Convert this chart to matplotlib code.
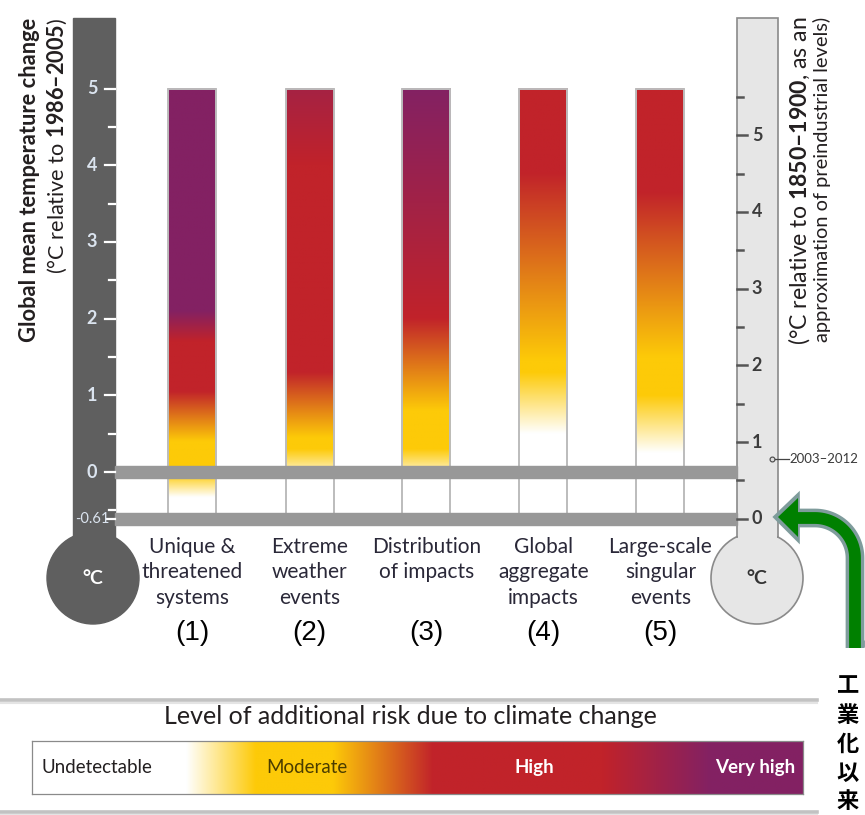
import numpy as np
import matplotlib
matplotlib.use("Agg")
import matplotlib.pyplot as plt
from matplotlib import font_manager
from matplotlib.transforms import Affine2D, blended_transform_factory
from matplotlib.patches import Rectangle, Circle, Polygon
from matplotlib.lines import Line2D

# ---------------------------------------------------------------- data
categories = ["Unique &\nthreatened\nsystems", "Extreme\nweather\nevents",
              "Distribution\nof impacts", "Global\naggregate\nimpacts",
              "Large-scale\nsingular\nevents"]
numbers = ["(1)", "(2)", "(3)", "(4)", "(5)"]

# risk level along each bar: 0 undetectable, 1 moderate, 2 high, 3 very high
# temperatures in °C relative to 1986–2005
rfc1_temp = [-0.33, -0.02, 0.40, 1.05, 1.70, 2.10, 5.0]
rfc1_level = [0, 1, 1, 2, 2, 3, 3]
rfc2_temp = [-0.10, 0.30, 0.45, 1.30, 4.00, 5.0]
rfc2_level = [0, 1, 1, 2, 2, 2.45]
rfc3_temp = [-0.10, 0.30, 0.80, 2.00, 5.0]
rfc3_level = [0, 1, 1, 2, 3]
rfc4_temp = [0.50, 1.30, 1.45, 3.90, 5.0]
rfc4_level = [0, 1, 1, 2, 2]
rfc5_temp = [0.25, 1.00, 1.50, 3.65, 5.0]
rfc5_level = [0, 1, 1, 2, 2]

bar_top = 5.0
baseline_offset = 0.61          # 1986–2005 minus 1850–1900
period_2003_2012 = 0.78          # °C relative to 1850–1900
left_ticks = [0, 1, 2, 3, 4, 5]
right_ticks = [0, 1, 2, 3, 4, 5]

level_names = ["Undetectable", "Moderate", "High", "Very high"]
level_colors = ["#FFFFFF", "#FDCA08", "#C1232A", "#832163"]
legend_pos = [0.0, 0.20, 0.29, 0.39, 0.52, 0.74, 0.88, 1.0]
legend_level = [0, 0, 1, 1, 2, 2, 3, 3]

jp_label = "工業化以来"

# ---------------------------------------------------------------- fonts
avail = {f.name for f in font_manager.fontManager.ttflist}
def pick(*names):
    for n in names:
        if n in avail:
            return n
    return "DejaVu Sans"

NARROW = pick("Liberation Sans Narrow", "Lato", "Roboto", "Liberation Sans")
ARIAL = pick("Liberation Sans", "DejaVu Sans")
CJK = pick("Noto Sans CJK JP", "Noto Sans CJK SC")
plt.rcParams["font.family"] = [NARROW, "DejaVu Sans"]
plt.rcParams["mathtext.fontset"] = "custom"
plt.rcParams["mathtext.rm"] = NARROW
plt.rcParams["mathtext.bf"] = NARROW + ":bold"

W, H = 865, 815
fig = plt.figure(figsize=(W / 100, H / 100), dpi=100)
fig.patch.set_facecolor("white")

# main axes: x = category index, y = °C relative to 1986–2005
X0, DX = 192.5, 117.0
Y0, DY = 472.0, 76.7
ax = fig.add_axes([0, 0, 1, 1])
ax.set_xlim(-X0 / DX, (W - X0) / DX)
ax.set_ylim((Y0 - H) / DY, Y0 / DY)
ax.axis("off")

# pixel-style layout transform (x right, y down)
P = Affine2D().scale(1 / W, -1 / H).translate(0, 1) + fig.transFigure
PxT = blended_transform_factory(P, ax.transData)     # x layout, y temperature
TxP = blended_transform_factory(ax.transData, P)     # x category, y layout

renderer = fig.canvas.get_renderer()


def level_rgb(levels):
    rgb = np.array([matplotlib.colors.to_rgb(c) for c in level_colors])
    steps = np.arange(len(level_colors))
    return np.stack([np.interp(levels, steps, rgb[:, k]) for k in range(3)], axis=-1)


# ---------------------------------------------------------------- thermometers
DARK = "#5f5f5f"
ax.add_patch(Rectangle((73, 18), 42, 522, transform=P, color=DARK, zorder=1, clip_on=False))
ax.add_patch(Circle((93, 578), 46, transform=P, color=DARK, zorder=1, clip_on=False))

LIGHT, EDGE = "#e6e6e6", "#8a8a8a"
ax.add_patch(Circle((757, 578), 46, transform=P, facecolor=LIGHT, edgecolor=EDGE,
                    lw=1.2, zorder=1, clip_on=False))
ax.add_patch(Rectangle((737, 18), 41, 519, transform=P, facecolor=LIGHT, edgecolor=EDGE,
                       lw=1.2, zorder=1, clip_on=False))
ax.add_patch(Rectangle((738, 526), 39, 20, transform=P, facecolor=LIGHT, edgecolor="none",
                       zorder=1, clip_on=False))

# left scale (1986–2005)
for t in np.arange(-0.5, 5.01, 0.5):
    major = float(t).is_integer()
    ax.add_line(Line2D([105 if major else 109, 115], [t, t], transform=PxT,
                       color="white", lw=1.6, zorder=5, clip_on=False))
for t in left_ticks:
    ax.text(92, t, str(t), transform=PxT, ha="center", va="center",
            fontsize=13, fontweight="bold", color="#dbe4ef", zorder=5)
ax.add_line(Line2D([107, 115], [-baseline_offset] * 2, transform=PxT,
                   color="white", lw=1.6, zorder=5, clip_on=False))
ax.text(92, -baseline_offset, f"-{baseline_offset:.2f}", transform=PxT, ha="center",
        va="center", fontsize=10.5, color="#dbe4ef", zorder=5)
ax.text(93, 578, "°C", transform=P, ha="center", va="center", fontsize=14,
        fontweight="bold", color="white", zorder=5)

# right scale (1850–1900)
for r in np.arange(0, 5.51, 0.5):
    major = float(r).is_integer()
    t = r - baseline_offset
    ax.add_line(Line2D([737, 747 if major else 743], [t, t], transform=PxT,
                       color="#555555", lw=1.8, zorder=5, clip_on=False))
for r in right_ticks:
    ax.text(757, r - baseline_offset, str(r), transform=PxT, ha="center", va="center",
            fontsize=13, fontweight="bold", color="#3c3c3c", zorder=5)
ax.text(757, 578, "°C", transform=P, ha="center", va="center", fontsize=14,
        fontweight="bold", color="#333333", zorder=5)

t_obs = period_2003_2012 - baseline_offset
ax.add_line(Line2D([772, 789], [t_obs, t_obs], transform=PxT, color="#444444",
                   lw=0.9, zorder=6, clip_on=False))
ax.add_line(Line2D([772], [t_obs], transform=PxT, marker="o", ms=3.5, mfc="#dddddd",
                   mec="#444444", mew=0.8, zorder=7, clip_on=False))
ax.text(789, t_obs, "2003–2012", transform=PxT, ha="left", va="center",
        fontsize=9.5, color="#3a3a3a", zorder=6)


def fit(txt, target):
    bb = txt.get_window_extent(renderer)
    length = max(bb.width, bb.height)
    txt.set_fontsize(txt.get_fontsize() * target / length)


# rotated axis titles
t1 = ax.text(30, 18, "Global mean temperature change", transform=P, rotation=90,
             ha="center", va="top", fontsize=15, fontweight="bold", color="#231f20")
fit(t1, 325)
t2 = ax.text(57, 18, "(°C relative to $\\mathbf{1986–2005}$)", transform=P, rotation=90,
             ha="center", va="top", fontsize=14, color="#231f20")
fit(t2, 258)
t3 = ax.text(799, 17, "(°C relative to $\\mathbf{1850–1900}$, as an", transform=P,
             rotation=90, ha="center", va="top", fontsize=14, color="#231f20")
fit(t3, 330)
t4 = ax.text(822, 17, "approximation of preindustrial levels)", transform=P,
             rotation=90, ha="center", va="top", fontsize=14, color="#231f20")
fit(t4, 328)

# ---------------------------------------------------------------- bars
bar_w = 48 / DX
bottom = -baseline_offset
grid = np.linspace(bottom, bar_top, 500)
series = [(rfc1_temp, rfc1_level), (rfc2_temp, rfc2_level), (rfc3_temp, rfc3_level),
          (rfc4_temp, rfc4_level), (rfc5_temp, rfc5_level)]
for i, (temps, levels) in enumerate(series):
    col = level_rgb(np.interp(grid, temps, levels))
    img = np.repeat(col[:, None, :], 2, axis=1)
    ax.imshow(img, extent=(i - bar_w / 2, i + bar_w / 2, bottom, bar_top),
              origin="lower", aspect="auto", interpolation="bilinear", zorder=2)
    ax.bar(i, bar_top - bottom, bottom=bottom, width=bar_w, fill=False,
           edgecolor="#bcbcbc", lw=1.4, zorder=3)
    ax.text(i, 537, categories[i], transform=TxP, ha="center", va="top",
            fontsize=15, color="#2a2838", linespacing=1.33, zorder=5)
    ax.text(i, 633, numbers[i], transform=TxP, ha="center", va="center",
            fontsize=20, color="black", family=ARIAL, zorder=5)
ax.set_xlim(-X0 / DX, (W - X0) / DX)
ax.set_ylim((Y0 - H) / DY, Y0 / DY)

# reference levels: 1986–2005 (0) and preindustrial (-0.61)
for t in (0.0, -baseline_offset):
    ax.add_patch(Rectangle((115, t - 6 / DY), 622, 12 / DY, transform=PxT,
                           color="#989898", zorder=4, clip_on=False))

# ---------------------------------------------------------------- arrow
ang = np.linspace(0, np.pi / 2, 30)
ax_x = [855, 855] + list(815 + 40 * np.cos(ang)) + [796]
ax_y = [648, 558] + list(558 - 40 * np.sin(ang)) + [518]
OUT, GREEN = "#7f9c9c", "#008000"
ax.add_line(Line2D(ax_x, ax_y, transform=P, color=OUT, lw=13.5,
                   solid_capstyle="butt", solid_joinstyle="round", zorder=6, clip_on=False))
ax.add_patch(Polygon([(775, 517), (798, 495), (798, 540)], closed=True, transform=P,
                     facecolor=OUT, edgecolor=OUT, lw=2.6, joinstyle="miter",
                     zorder=6, clip_on=False))
ax.add_line(Line2D(ax_x[:-1] + [790], ax_y, transform=P, color=GREEN, lw=8.5,
                   solid_capstyle="butt", zorder=7, clip_on=False))
ax.add_line(Line2D([855, 855], [646.5, 640], transform=P, color=OUT, lw=13.5,
                   solid_capstyle="butt", zorder=6, clip_on=False))
ax.add_patch(Polygon([(778, 517), (798, 498), (798, 537)], closed=True, transform=P,
                     facecolor=GREEN, edgecolor="none", zorder=8, clip_on=False))

for k, ch in enumerate(jp_label):
    ax.text(848, 686 + 29 * k, ch, transform=P, ha="center", va="center",
            fontsize=16, fontweight="bold", family=CJK, color="black", zorder=8)

# ---------------------------------------------------------------- legend
for y in (700, 812):
    ax.add_line(Line2D([0, 817], [y, y], transform=P, color="#c2c2c2", lw=2.6,
                       zorder=5, clip_on=False))
    ax.add_line(Line2D([0, 817], [y + 2.5, y + 2.5], transform=P, color="#e4e4e4",
                       lw=1.5, zorder=5, clip_on=False))

lt = ax.text(410, 716, "Level of additional risk due to climate change", transform=P,
             ha="center", va="center", fontsize=15, color="#231f20", zorder=5)
fit(lt, 495)

lax = fig.add_axes([32 / W, 1 - 794 / H, (803 - 32) / W, (794 - 741) / H])
xs = np.linspace(0, 1, 800)
strip = level_rgb(np.interp(xs, legend_pos, legend_level))
lax.imshow(np.repeat(strip[None, :, :], 2, axis=0), extent=(0, 1, 0, 1),
           aspect="auto", interpolation="bilinear")
lax.set_xticks([])
lax.set_yticks([])
for s in lax.spines.values():
    s.set_color("#8a8a8a")
    s.set_linewidth(0.9)
lax.text(0.012, 0.5, level_names[0], transform=lax.transAxes, ha="left", va="center",
         fontsize=13.5, color="#231f20")
lax.text(0.357, 0.5, level_names[1], transform=lax.transAxes, ha="center", va="center",
         fontsize=13.5, color="#4a3c00")
lax.text(0.651, 0.5, level_names[2], transform=lax.transAxes, ha="center", va="center",
         fontsize=13.5, fontweight="bold", color="white")
lax.text(0.990, 0.5, level_names[3], transform=lax.transAxes, ha="right", va="center",
         fontsize=13.5, fontweight="bold", color="white")

fig.savefig("out.png", dpi=100, facecolor="white")
